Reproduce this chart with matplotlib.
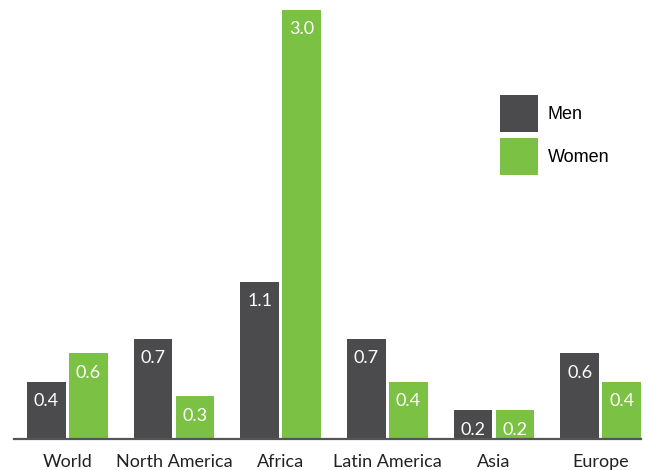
import matplotlib
matplotlib.use("Agg")
import matplotlib.pyplot as plt
import numpy as np

categories = ["World", "North America", "Africa", "Latin America", "Asia", "Europe"]
men = [0.4, 0.7, 1.1, 0.7, 0.2, 0.6]
women = [0.6, 0.3, 3.0, 0.4, 0.2, 0.4]
series_names = ["Men", "Women"]

c_men = "#4b4b4d"
c_women = "#7bc143"

W, H = 649, 470
fig = plt.figure(figsize=(W / 100, H / 100), dpi=100)
ax = fig.add_axes([14 / W, 1 - 439 / H, (641 - 14) / W, (439 - 10) / H])

x = np.arange(len(categories))
bw = 0.363
off = 0.197
b1 = ax.bar(x - off, men, bw, color=c_men, label=series_names[0])
b2 = ax.bar(x + off, women, bw, color=c_women, label=series_names[1])

ax.set_xlim(-0.5, 5.378)
ax.set_ylim(0, 3.0)

lab_font = dict(family=["Lato", "DejaVu Sans"], fontsize=13, color="white", fontweight="normal")
for bars, vals in ((b1, men), (b2, women)):
    for r, v in zip(bars, vals):
        ax.annotate(f"{v:.1f}", (r.get_x() + r.get_width() / 2, v),
                    xytext=(0, -14), textcoords="offset points",
                    ha="center", va="center", **lab_font)

for s in ("top", "right", "left"):
    ax.spines[s].set_visible(False)
ax.spines["bottom"].set_color("#555555")
ax.spines["bottom"].set_linewidth(1.6)
ax.set_yticks([])
ax.set_xticks(x)
ax.set_xticklabels(categories, family=["Lato", "DejaVu Sans"], fontsize=13, color="#222222")
ax.tick_params(axis="x", length=0, pad=11)

leg = fig.legend(handles=[b1, b2], labels=series_names, loc="upper left",
                 bbox_to_anchor=(500 / W, 1 - 95 / H), frameon=False,
                 borderpad=0, borderaxespad=0, handlelength=2.1, handleheight=2.75,
                 labelspacing=0.35, handletextpad=0.55,
                 prop=dict(family=["Liberation Sans", "DejaVu Sans"], size=13))

fig.savefig("out.png", dpi=100)
